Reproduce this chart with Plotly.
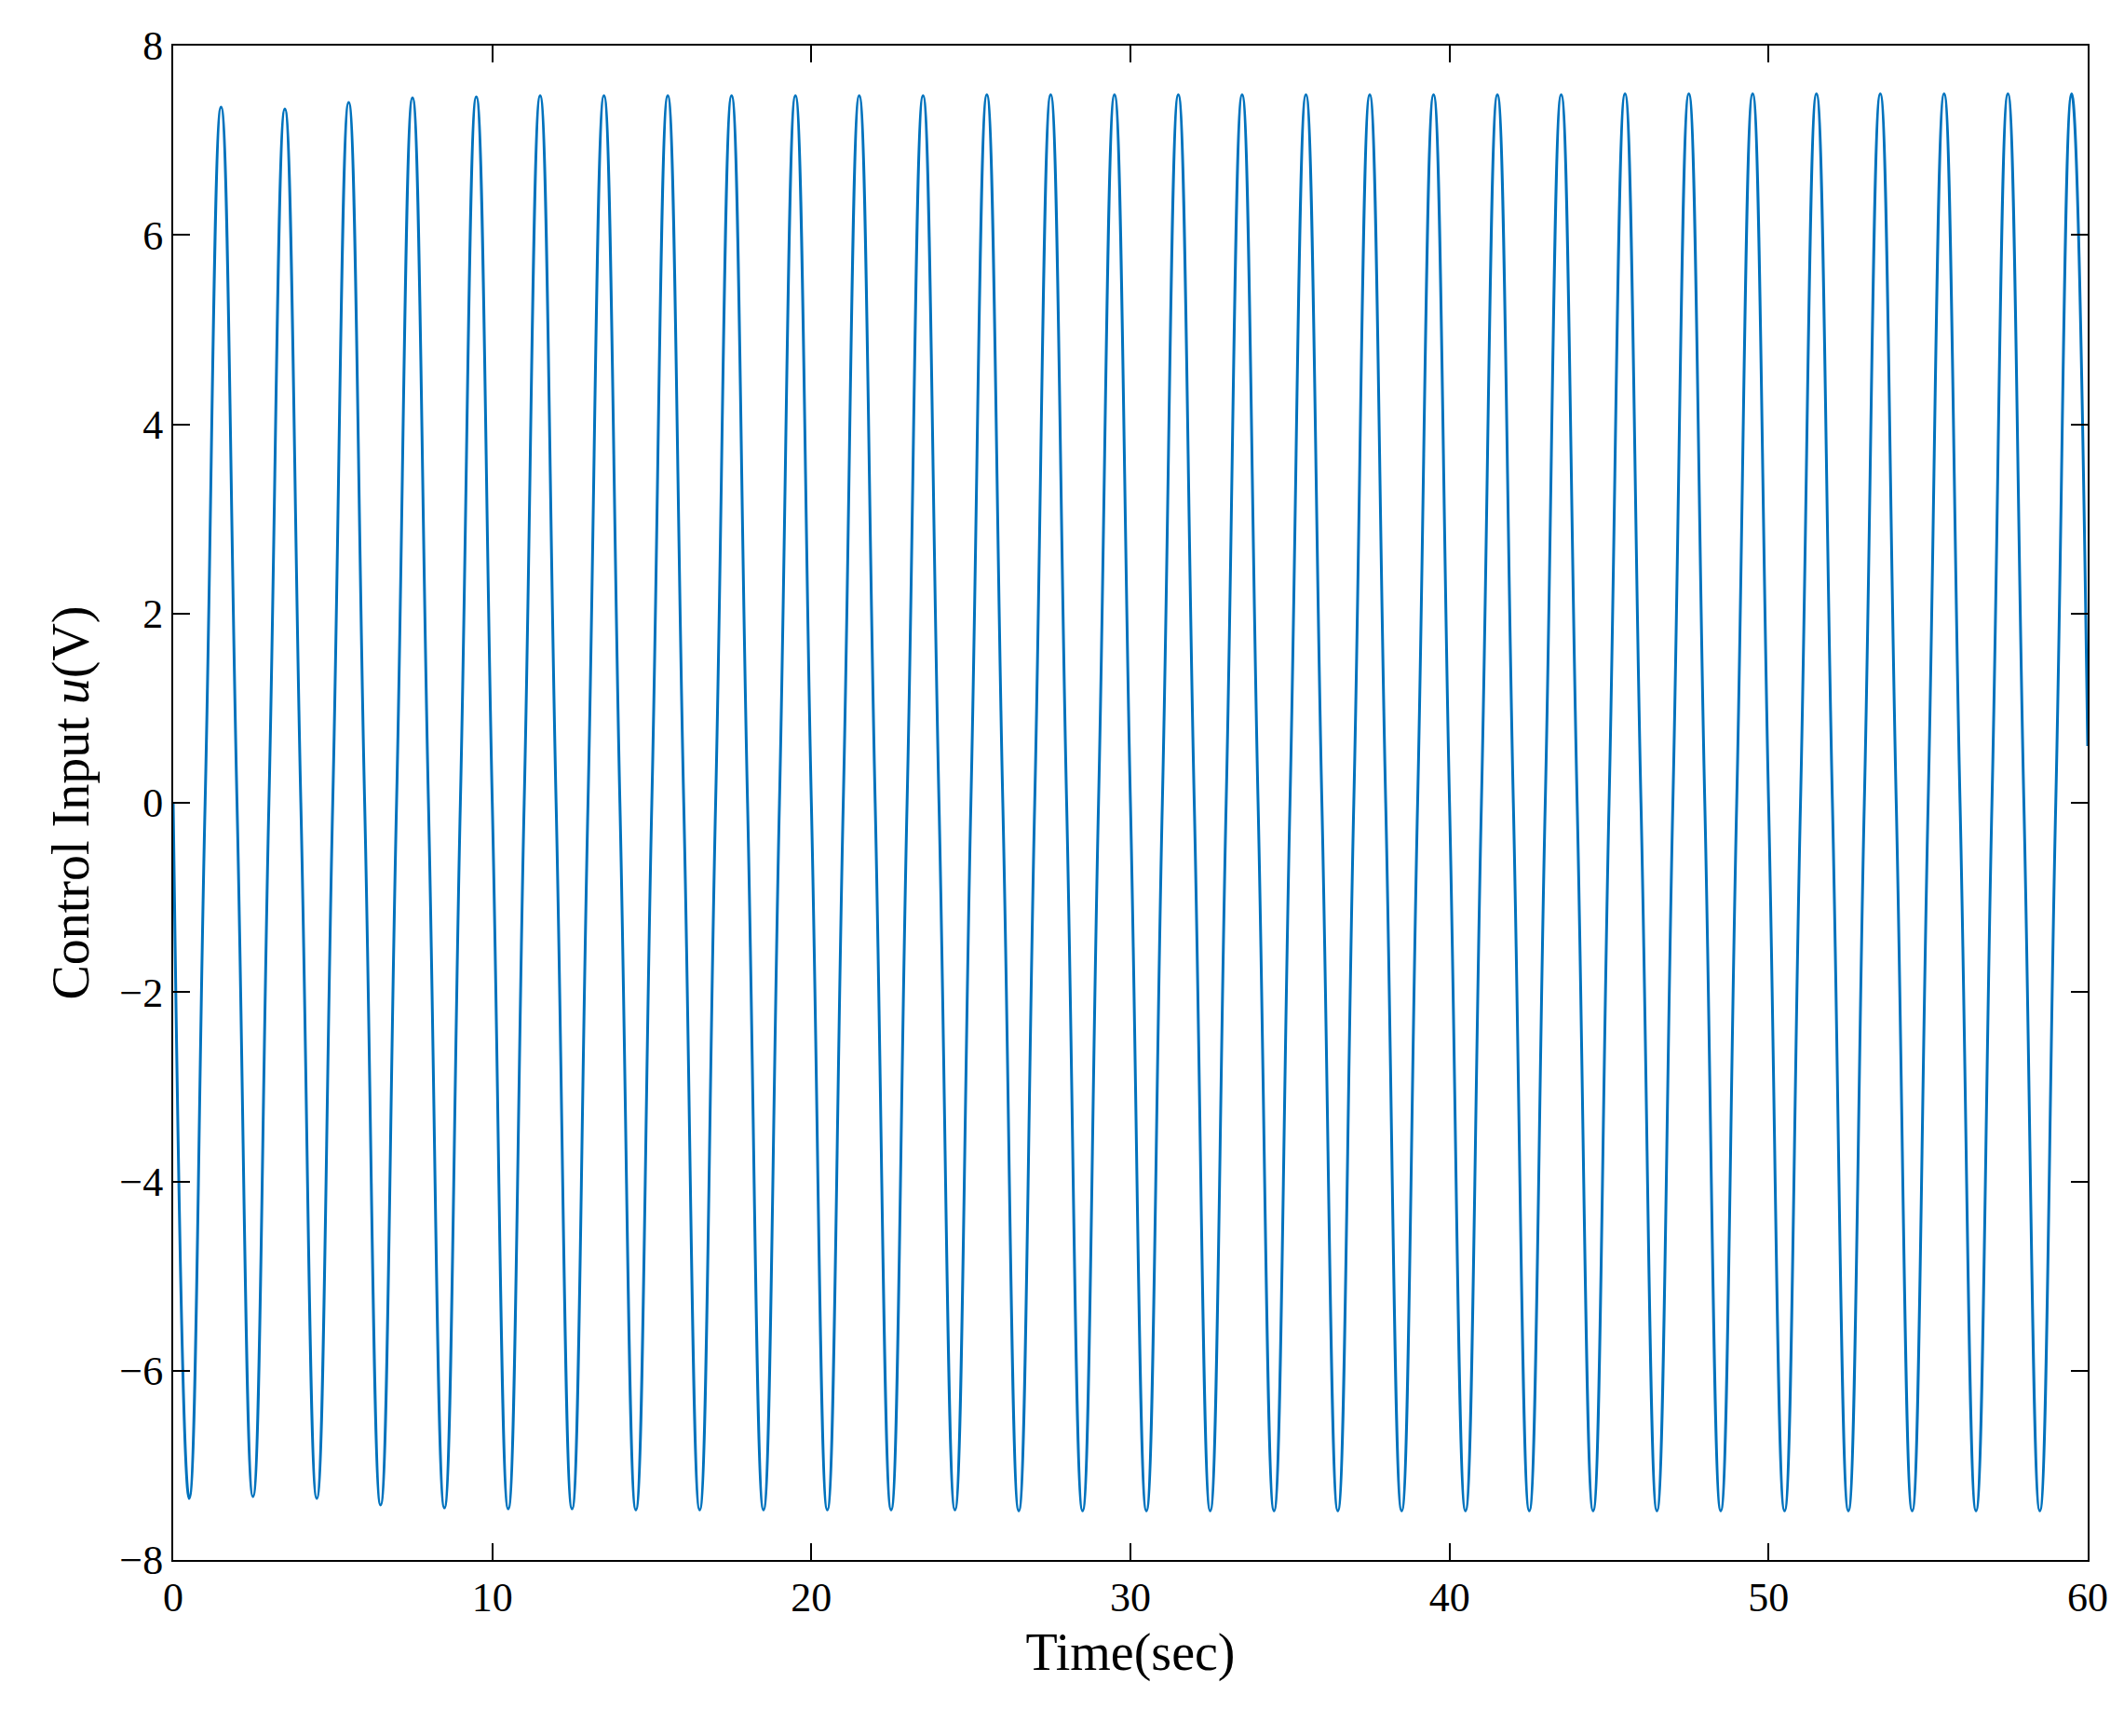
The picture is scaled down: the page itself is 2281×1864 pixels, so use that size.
import plotly.graph_objects as go

# extrema: troughs at t = 0.5, 2.5, ..., peaks at t = 1.5, 3.5, ...
trough_t = [0.5 + 2 * k for k in range(30)]
trough_u = [-7.35, -7.33, -7.35, -7.42, -7.45, -7.46, -7.46, -7.47, -7.47, -7.47,
            -7.47, -7.47, -7.47, -7.48, -7.48, -7.48, -7.48, -7.48, -7.48, -7.48,
            -7.48, -7.48, -7.48, -7.48, -7.48, -7.48, -7.48, -7.48, -7.48, -7.48]
peak_t = [1.5 + 2 * k for k in range(30)]
peak_u = [7.35, 7.33, 7.4, 7.45, 7.46, 7.47, 7.47, 7.47, 7.47, 7.47,
          7.47, 7.47, 7.48, 7.48, 7.48, 7.48, 7.48, 7.48, 7.48, 7.48,
          7.48, 7.48, 7.49, 7.49, 7.49, 7.49, 7.49, 7.49, 7.49, 7.49]
zero_t = [float(k) for k in range(60)]
end_t, end_u = 60.0, 0.6

pts = [(t, 0.0) for t in zero_t] + list(zip(trough_t, trough_u)) + list(zip(peak_t, peak_u))
pts.append((end_t, end_u))
pts.sort()
t = [p[0] for p in pts]
u = [p[1] for p in pts]

fig = go.Figure()
fig.add_scatter(x=t, y=u, mode="lines", line=dict(color="#0072BD", width=3, shape="spline", smoothing=1.3))

font = dict(family="Liberation Serif, Times New Roman, serif", color="black", size=44)
axis = dict(showgrid=False, zeroline=False, showline=True, linecolor="black", linewidth=2,
            mirror="ticks", ticks="inside", ticklen=18, tickwidth=2, tickcolor="black", tickfont=font)
fig.update_xaxes(range=[0, 60], dtick=10, title=dict(text="Time(sec)", font=dict(size=56)), **axis)
fig.update_yaxes(range=[-8, 8], dtick=2, title=dict(text="Control Input <i>u</i>(V)", font=dict(size=56)), **axis)
fig.update_layout(width=2281, height=1864, plot_bgcolor="white", paper_bgcolor="white", font=font,
                  showlegend=False, margin=dict(l=178, r=47, t=41, b=197))
fig.write_html("out.html")
